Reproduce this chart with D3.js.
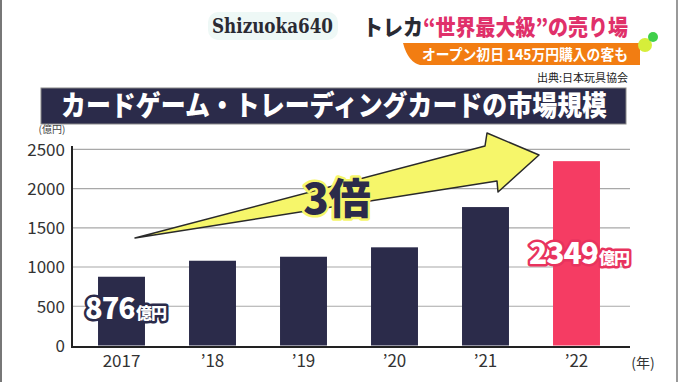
<!DOCTYPE html>
<html><head><meta charset="utf-8">
<script src="https://cdn.jsdelivr.net/npm/d3@7"></script>
<style>
html,body{margin:0;padding:0;background:#fff;}
svg{display:block;font-family:"Noto Sans CJK JP","Noto Sans",sans-serif;}
</style></head>
<body>
<svg id="c" width="680" height="382"></svg>
<script>
const years = ["2017", "’18", "’19", "’20", "’21", "’22"];
const values = [876, 1080, 1131, 1251, 1764, 2349];
const yTicks = [0, 500, 1000, 1500, 2000, 2500];
const title = "カードゲーム・トレーディングカードの市場規模";

const svg = d3.select("#c");
const W = 680, H = 382;
svg.append("rect").attr("width", W).attr("height", H).attr("fill", "#fff");
// side borders
svg.append("rect").attr("x", 0).attr("y", 0).attr("width", 2).attr("height", H).attr("fill", "#777");
svg.append("rect").attr("x", 676).attr("y", 0).attr("width", 2).attr("height", H).attr("fill", "#999");

const x = d3.scaleBand().domain(years).range([72, 626]).paddingInner(0.484).paddingOuter(0.286);
const y = d3.scaleLinear().domain([0, 2500]).range([345.5, 149.3]);

// gridlines
svg.append("g").selectAll("line").data(yTicks.filter(d => d > 0)).join("line")
  .attr("x1", 72).attr("x2", 630).attr("y1", d => y(d)).attr("y2", d => y(d))
  .attr("stroke", "#a8a8a8").attr("stroke-width", 1.2);

// y axis labels
const yAxis = d3.axisLeft(y).tickValues(yTicks).tickFormat(d3.format("d")).tickSize(0).tickPadding(7);
const ya = svg.append("g").attr("transform", "translate(72,0)").call(yAxis);
ya.select(".domain").remove();
ya.selectAll("text").attr("font-size", 17).attr("fill", "#333")
  .attr("font-family", "'Noto Sans CJK JP',sans-serif").attr("dy", "0.35em");
svg.append("text").attr("x", 52).attr("y", 133).attr("text-anchor", "middle")
  .attr("font-size", 10).attr("fill", "#444").text("(億円)");

// bars
svg.append("g").selectAll("rect").data(values).join("rect")
  .attr("x", (d, i) => x(years[i])).attr("width", x.bandwidth())
  .attr("y", d => y(d)).attr("height", d => y(0) - y(d))
  .attr("fill", (d, i) => i === values.length - 1 ? "#f53c63" : "#2b2b4a");

// axes lines
svg.append("line").attr("x1", 72).attr("x2", 72).attr("y1", 146).attr("y2", 348)
  .attr("stroke", "#222").attr("stroke-width", 2);
svg.append("line").attr("x1", 71).attr("x2", 630).attr("y1", 347).attr("y2", 347)
  .attr("stroke", "#222").attr("stroke-width", 2);

// x axis labels
const xAxis = d3.axisBottom(x).tickSize(0).tickPadding(8);
const xa = svg.append("g").attr("transform", "translate(0,347)").call(xAxis);
xa.select(".domain").remove();
xa.selectAll("text").attr("font-size", 17).attr("fill", "#333")
  .attr("font-family", "'Noto Sans CJK JP',sans-serif");
svg.append("text").attr("x", 643).attr("y", 368).attr("text-anchor", "middle")
  .attr("font-size", 14).attr("fill", "#333").text("(年)");

// arrow
const arrowPts = [[135, 238], [485, 146], [487, 133], [539, 155], [498, 192], [497, 181]];
svg.append("path").attr("d", d3.line()(arrowPts) + "Z")
  .attr("fill", "#f6f66a").attr("stroke", "#2a2a2a").attr("stroke-width", 1.5)
  .attr("stroke-linejoin", "round");

// 3倍
svg.append("text").attr("x", 337).attr("y", 214).attr("text-anchor", "middle")
  .attr("font-size", 42).attr("font-weight", 900).attr("fill", "#2b2b4a")
  .attr("stroke", "#f6f66a").attr("stroke-width", 5).attr("paint-order", "stroke")
  .attr("stroke-linejoin", "round").text("3倍");

// value labels
function valueLabel(i, xPos, yPos, strokeCol, big, small) {
  const t = svg.append("text").attr("x", xPos).attr("y", yPos)
    .attr("font-weight", 900).attr("fill", "#fff").attr("stroke", strokeCol)
    .attr("stroke-width", 5).attr("paint-order", "stroke").attr("stroke-linejoin", "round")
    .attr("letter-spacing", -1);
  t.append("tspan").attr("font-size", big).text(values[i]);
  t.append("tspan").attr("font-size", small).attr("dx", 1).text("億円");
}
valueLabel(0, 85, 319, "#2b2b4a", 29, 16);
valueLabel(values.length - 1, 529, 264, "#e8335e", 30, 16);

// title banner
svg.append("rect").attr("x", 41).attr("y", 88).attr("width", 585).attr("height", 36)
  .attr("fill", "#2b2b4a").attr("stroke", "#888").attr("stroke-width", 1);
svg.append("text").attr("x", 334).attr("y", 116).attr("text-anchor", "middle")
  .attr("font-size", 28).attr("font-weight", 900).attr("fill", "#fff")
  .attr("textLength", 546).attr("lengthAdjust", "spacingAndGlyphs").text(title);

// header
svg.append("rect").attr("x", 208).attr("y", 12).attr("width", 130).attr("height", 28)
  .attr("rx", 10).attr("fill", "#eef8f6");
svg.append("text").attr("x", 212).attr("y", 33).attr("font-size", 20)
  .attr("font-family", "'DejaVu Serif',serif").attr("font-weight", 700).attr("fill", "#2a2a33")
  .attr("textLength", 121).attr("lengthAdjust", "spacingAndGlyphs").text("Shizuoka640");
const h = svg.append("text").attr("x", 363).attr("y", 35).attr("font-size", 22)
  .attr("font-weight", 900).attr("textLength", 265).attr("lengthAdjust", "spacingAndGlyphs");
h.append("tspan").attr("fill", "#2a2a33").text("トレカ");
h.append("tspan").attr("fill", "#e0306a").text("“世界最大級”の売り場");

// orange sub banner
svg.append("path")
  .attr("d", "M403,43 L640,43 L640,65 L420,65 Q408,62 403,43 Z")
  .attr("fill", "#f27d12");
svg.append("text").attr("x", 422).attr("y", 60).attr("font-size", 15)
  .attr("font-weight", 700).attr("fill", "#fff")
  .attr("textLength", 206).attr("lengthAdjust", "spacingAndGlyphs")
  .text("オープン初日 145万円購入の客も");
svg.append("circle").attr("cx", 645).attr("cy", 45).attr("r", 7).attr("fill", "#d6ee3a");
svg.append("circle").attr("cx", 653).attr("cy", 37).attr("r", 5).attr("fill", "#3fcf4a");

svg.append("text").attr("x", 628).attr("y", 82).attr("text-anchor", "end")
  .attr("font-size", 11).attr("fill", "#222").text("出典:日本玩具協会");
</script>
</body></html>
